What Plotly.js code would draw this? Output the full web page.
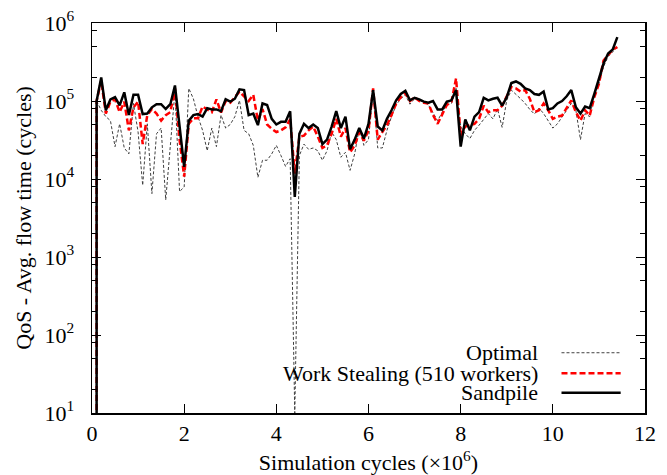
<!DOCTYPE html>
<html>
<head>
<meta charset="utf-8">
<script src="https://cdn.plot.ly/plotly-3.0.1.min.js"></script>
<style>
  html, body { margin: 0; padding: 0; background: #fff; }
  #chart { width: 667px; height: 475px; }
</style>
</head>
<body>
<div id="chart"></div>
<script>
// Simulation cycles (x 10^6)
const cycles = [0.1,
  0.1, 0.2, 0.3, 0.4, 0.5, 0.6, 0.7, 0.8, 0.9, 1.0,
  1.1, 1.2, 1.3, 1.4, 1.5, 1.6, 1.7, 1.8, 1.9, 2.0,
  2.1, 2.2, 2.3, 2.4, 2.5, 2.6, 2.7, 2.8, 2.9, 3.0,
  3.1, 3.2, 3.3, 3.4, 3.5, 3.6, 3.7, 3.8, 3.9, 4.0,
  4.1, 4.2, 4.3, 4.4, 4.5, 4.6, 4.7, 4.8, 4.9, 5.0,
  5.1, 5.2, 5.3, 5.4, 5.5, 5.6, 5.7, 5.8, 5.9, 6.0,
  6.1, 6.2, 6.3, 6.4, 6.5, 6.6, 6.7, 6.8, 6.9, 7.0,
  7.1, 7.2, 7.3, 7.4, 7.5, 7.6, 7.7, 7.8, 7.9, 8.0,
  8.1, 8.2, 8.3, 8.4, 8.5, 8.6, 8.7, 8.8, 8.9, 9.0,
  9.1, 9.2, 9.3, 9.4, 9.5, 9.6, 9.7, 9.8, 9.9, 10.0,
  10.1, 10.2, 10.3, 10.4, 10.5, 10.6, 10.7, 10.8, 10.9, 11.0,
  11.1, 11.2, 11.3, 11.4];

// QoS - average flow time (cycles)
const optimal = [1,
  100000, 76000, 63000, 56000, 26000, 51000, 25000, 21000, 93000, 40000,
  8300, 51000, 6500, 38000, 45000, 5400, 25000, 132000, 6900, 7900,
  145000, 107000, 63000, 42000, 23000, 45000, 26000, 66000, 45000, 50000,
  63000, 102000, 42000, 38000, 27000, 10500, 17400, 17400, 21000, 27000,
  20000, 14500, 18200, 10, 20000, 28000, 24000, 25000, 23000, 17400,
  23000, 40000, 32000, 19000, 22000, 12900, 21000, 45000, 27000, 32000,
  138000, 25000, 25000, 42000, 63000, 89000, 107000, 120000, 91000, 107000,
  102000, 98000, 89000, 69000, 56000, 72000, 89000, 93000, 145000, 47000,
  38000, 33000, 42000, 49000, 59000, 69000, 59000, 79000, 46000, 102000,
  138000, 123000, 107000, 93000, 78000, 68000, 81000, 69000, 56000, 45000,
  51000, 63000, 76000, 93000, 76000, 32000, 69000, 63000, 120000, 166000,
  275000, 372000, 427000, 490000];

const workStealing = [1,
  100000, 182000, 69000, 98000, 105000, 72000, 98000, 42000, 83000, 98000,
  28000, 66000, 79000, 69000, 56000, 66000, 72000, 145000, 32000, 10700,
  51000, 60000, 60000, 85000, 79000, 72000, 105000, 71000, 100000, 95000,
  112000, 132000, 115000, 100000, 120000, 56000, 79000, 50000, 44000, 40000,
  42000, 46000, 58000, 11700, 35000, 36000, 42000, 47000, 35000, 25000,
  27000, 38000, 59000, 35000, 45000, 22000, 27000, 40000, 31000, 42000,
  145000, 32000, 40000, 49000, 66000, 93000, 112000, 126000, 100000, 112000,
  100000, 95000, 93000, 66000, 51000, 69000, 89000, 98000, 195000, 36000,
  47000, 49000, 51000, 59000, 87000, 72000, 76000, 76000, 87000, 115000,
  151000, 145000, 132000, 138000, 107000, 72000, 76000, 93000, 76000, 59000,
  63000, 65000, 83000, 102000, 72000, 56000, 76000, 65000, 112000, 166000,
  331000, 389000, 457000, 490000];

const sandpile = [1,
  100000, 200000, 76000, 105000, 112000, 88000, 129000, 66000, 120000, 120000,
  68000, 69000, 83000, 91000, 91000, 79000, 91000, 158000, 50000, 14300,
  56000, 66000, 68000, 63000, 81000, 78000, 78000, 74000, 105000, 98000,
  107000, 141000, 138000, 66000, 69000, 49000, 93000, 89000, 59000, 50000,
  54000, 54000, 74000, 5900, 38000, 51000, 45000, 50000, 45000, 28000,
  32000, 47000, 74000, 45000, 63000, 24000, 32000, 45000, 33000, 51000,
  138000, 47000, 42000, 59000, 76000, 102000, 123000, 135000, 102000, 110000,
  105000, 98000, 95000, 100000, 78000, 78000, 98000, 102000, 138000, 26000,
  58000, 42000, 63000, 72000, 110000, 102000, 107000, 110000, 87000, 112000,
  170000, 178000, 166000, 145000, 138000, 123000, 120000, 132000, 78000, 81000,
  93000, 100000, 115000, 138000, 83000, 69000, 85000, 81000, 123000, 195000,
  302000, 407000, 457000, 660000];

const seriesNames = ["Optimal", "Work Stealing (510 workers)", "Sandpile"];
const xTickVals = [0, 2, 4, 6, 8, 10, 12];
const yTickVals = [10, 100, 1000, 10000, 100000, 1000000];
const yTickText = ["10<sup>1</sup>", "10<sup>2</sup>", "10<sup>3</sup>", "10<sup>4</sup>", "10<sup>5</sup>", "10<sup>6</sup>"];
const yMinorVals = [20, 50, 80, 200, 500, 800, 2000, 5000, 8000, 20000, 50000, 80000, 200000, 500000, 800000];

const FONT = "'Liberation Serif', 'DejaVu Serif', serif";

const traces = [
  { x: cycles, y: optimal, name: seriesNames[0], mode: "lines",
    line: { color: "#404040", width: 1, dash: "3px,2px" } },
  { x: cycles, y: workStealing, name: seriesNames[1], mode: "lines",
    line: { color: "#ff0000", width: 2.5, dash: "6px,3px" } },
  { x: cycles, y: sandpile, name: seriesNames[2], mode: "lines",
    line: { color: "#000000", width: 2.5 } }
];

// legend (gnuplot style: text, then line sample on its right)
const legendY = [0.1545, 0.1017, 0.052];
const legendStyles = [
  { color: "#404040", width: 1, dash: "3px,2px" },
  { color: "#ff0000", width: 2.5, dash: "6px,3px" },
  { color: "#000000", width: 2.5 }
];
const annotations = seriesNames.map((n, i) => ({
  text: n, xref: "paper", yref: "paper", x: 0.81, y: legendY[i],
  xanchor: "right", yanchor: "middle", showarrow: false,
  font: { family: FONT, size: 22, color: "#000" }
}));
const shapes = seriesNames.map((n, i) => ({
  type: "line", xref: "paper", yref: "paper",
  x0: 0.849, x1: 0.956, y0: legendY[i], y1: legendY[i],
  line: legendStyles[i]
}));

const layout = {
  width: 667, height: 475,
  margin: { l: 92, r: 22, t: 23, b: 62 },
  paper_bgcolor: "#fff", plot_bgcolor: "#fff",
  showlegend: false,
  font: { family: FONT, size: 22, color: "#000" },
  xaxis: {
    range: [0, 12], tickmode: "array", tickvals: xTickVals,
    ticks: "inside", ticklen: 9, tickwidth: 1, tickcolor: "#000",
    showline: true, linecolor: "#000", linewidth: 1.5, mirror: "allticks",
    showgrid: false, zeroline: false,
    ticklabelstandoff: 0,
    tickfont: { family: FONT, size: 22, color: "#000" },
    title: { text: "Simulation cycles (×10<sup>6</sup>)", standoff: 10,
             font: { family: FONT, size: 22, color: "#000" } }
  },
  yaxis: {
    type: "log", range: [1, 6],
    tickmode: "array", tickvals: yTickVals, ticktext: yTickText,
    ticks: "inside", ticklen: 9, tickwidth: 1, tickcolor: "#000",
    minor: { tickmode: "array", tickvals: yMinorVals, ticks: "inside", ticklen: 5, tickwidth: 1, tickcolor: "#000" },
    showline: true, linecolor: "#000", linewidth: 1.5, mirror: "allticks",
    showgrid: false, zeroline: false,
    ticklabelstandoff: 12,
    tickfont: { family: FONT, size: 22, color: "#000" },
    title: { text: "QoS - Avg. flow time (cycles)", standoff: 6,
             font: { family: FONT, size: 22, color: "#000" } }
  },
  annotations: annotations,
  shapes: shapes
};

Plotly.newPlot("chart", traces, layout, { displayModeBar: false, staticPlot: true });
</script>
</body>
</html>
